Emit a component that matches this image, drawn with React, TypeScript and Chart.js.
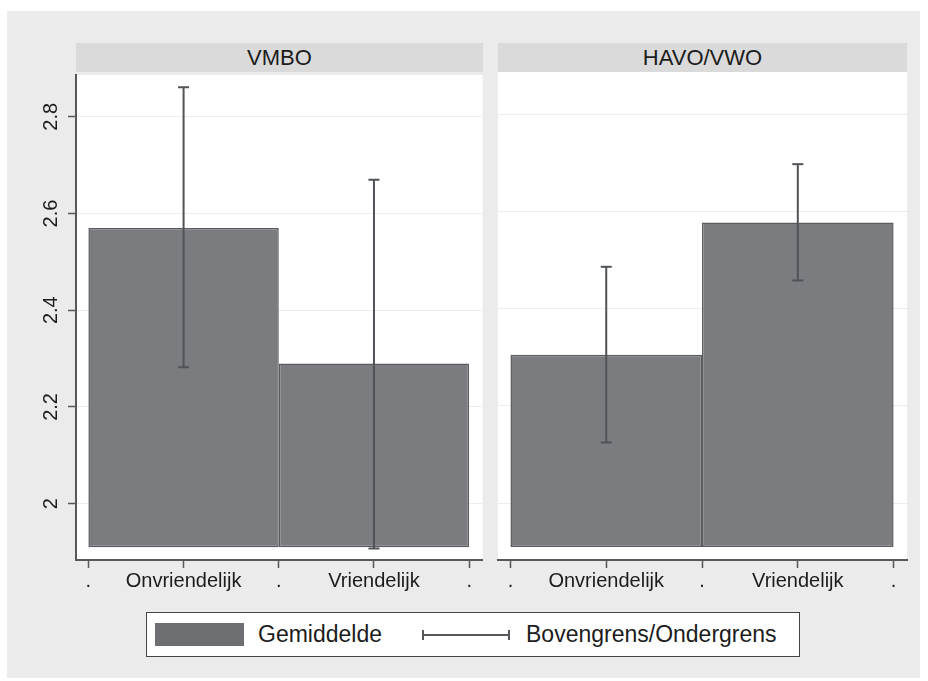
import React, { useEffect, useRef } from 'react';
import { Chart, registerables } from 'chart.js';

Chart.register(...registerables);

// ---- data ----
const groups = ['VMBO', 'HAVO/VWO'];
const categories = ['Onvriendelijk', 'Vriendelijk'];
const vmboMean = [2.57, 2.29];
const vmboUpper = [2.861, 2.67];
const vmboLower = [2.282, 1.907];
const havoMean = [2.305, 2.577];
const havoUpper = [2.486, 2.697];
const havoLower = [2.125, 2.458];
const barBase = 1.91;
const yTickValues = [2, 2.2, 2.4, 2.6, 2.8];
const yTickLabels = ['2', '2.2', '2.4', '2.6', '2.8'];
const xTickLabels = ['.', 'Onvriendelijk', '.', 'Vriendelijk', '.'];
const legendLabels = ['Gemiddelde', 'Bovengrens/Ondergrens'];

// ---- styles ----
const FONT = '"Liberation Sans", Arial, Helvetica, sans-serif';
const TEXT = '#1c1c1c';
const AXIS = '#55575a';
const GRID = '#ececec';
const BAR_FILL = '#7b7c80';
const BAR_EDGE = '#5a5b5f';
const ERR = '#505357';
const PAGE_BG = '#ebebeb';
const HEADER_BG = '#dadada';

const plotBg = {
  id: 'plotBg',
  beforeDraw(chart: any) {
    const { ctx, chartArea: a } = chart;
    ctx.save();
    ctx.fillStyle = '#ffffff';
    ctx.fillRect(a.left, a.top, a.right - a.left, a.bottom - a.top);
    ctx.restore();
  },
};

function buildConfig(mean: number[], upper: number[], lower: number[], showY: boolean, padding: any): any {
  const xs = categories.map((_, i) => i * 2 + 1);
  const datasets: any[] = [
    {
      type: 'bar',
      label: legendLabels[0],
      data: xs.map((x, i) => ({ x, y: [barBase, mean[i]] })),
      backgroundColor: BAR_FILL,
      borderColor: BAR_EDGE,
      borderWidth: 1.5,
      borderSkipped: false,
      categoryPercentage: 1,
      barPercentage: 2,
      order: 2,
    },
  ];
  xs.forEach((x, i) => {
    datasets.push({
      type: 'line',
      label: legendLabels[1],
      data: [
        { x, y: lower[i] },
        { x, y: upper[i] },
      ],
      borderColor: ERR,
      borderWidth: 2,
      pointStyle: 'line',
      pointRadius: 5.5,
      pointBorderWidth: 2,
      pointBorderColor: ERR,
      pointBackgroundColor: ERR,
      fill: false,
      order: 1,
    });
  });

  return {
    type: 'bar',
    data: { datasets },
    plugins: [plotBg],
    options: {
      responsive: false,
      animation: false,
      events: [],
      layout: { padding },
      plugins: {
        legend: { display: false },
        tooltip: { enabled: false },
        title: { display: false },
      },
      scales: {
        x: {
          type: 'linear',
          min: -0.13,
          max: 4.14,
          offset: false,
          afterBuildTicks: (axis: any) => {
            axis.ticks = xTickLabels.map((_, i) => ({ value: i }));
          },
          afterFit: (axis: any) => {
            axis.height = 40;
          },
          ticks: {
            callback: (_v: any, i: number) => xTickLabels[i],
            font: { size: 20, family: FONT },
            color: TEXT,
            padding: 1,
            maxRotation: 0,
            minRotation: 0,
            autoSkip: false,
          },
          grid: {
            drawOnChartArea: false,
            drawTicks: true,
            tickLength: 8,
            tickColor: AXIS,
            tickWidth: 1.5,
            offset: false,
          },
          border: { display: true, color: AXIS, width: 2 },
        },
        y: {
          type: 'linear',
          min: 1.8834,
          max: 2.8864,
          afterBuildTicks: (axis: any) => {
            axis.ticks = yTickValues.map((v) => ({ value: v }));
          },
          afterFit: (axis: any) => {
            axis.width = showY ? 56 : 0;
          },
          ticks: {
            display: showY,
            callback: (_v: any, i: number) => yTickLabels[i],
            minRotation: 90,
            maxRotation: 90,
            crossAlign: 'center',
            padding: 3,
            font: { size: 20, family: FONT },
            color: TEXT,
          },
          grid: {
            color: GRID,
            lineWidth: 1,
            drawTicks: showY,
            tickLength: 8,
            tickColor: AXIS,
            tickWidth: 1.5,
          },
          border: { display: showY, color: AXIS, width: 2 },
        },
      },
    },
  };
}

function Panel(props: {
  mean: number[];
  upper: number[];
  lower: number[];
  showY: boolean;
  left: number;
  width: number;
  padding: any;
}) {
  const ref = useRef<HTMLCanvasElement | null>(null);
  useEffect(() => {
    if (!ref.current) return;
    const chart = new Chart(ref.current, buildConfig(props.mean, props.upper, props.lower, props.showY, props.padding));
    return () => chart.destroy();
  }, []);
  return (
    <canvas
      ref={ref}
      width={props.width}
      height={540}
      style={{ position: 'absolute', left: props.left, top: 60, width: props.width, height: 540 }}
    />
  );
}

const headerStyle = (left: number, width: number): React.CSSProperties => ({
  position: 'absolute',
  left,
  top: 43,
  width,
  height: 29,
  lineHeight: '29px',
  background: HEADER_BG,
  textAlign: 'center',
  fontFamily: FONT,
  fontSize: 22,
  color: TEXT,
});

export default function App() {
  Chart.defaults.font.family = FONT;
  return (
    <div style={{ position: 'fixed', left: 0, top: 0, width: 928, height: 681, background: '#ffffff', overflow: 'hidden' }}>
      <div style={{ position: 'absolute', left: 7, top: 11, width: 913, height: 667, background: PAGE_BG }} />
      <div style={headerStyle(76, 407)}>{groups[0]}</div>
      <div style={headerStyle(498, 409)}>{groups[1]}</div>
      <Panel mean={vmboMean} upper={vmboUpper} lower={vmboLower} showY={true} left={20} width={470}
        padding={{ top: 12, right: 7, left: 0, bottom: 0 }} />
      <Panel mean={havoMean} upper={havoUpper} lower={havoLower} showY={false} left={490} width={430}
        padding={{ top: 12, right: 13, left: 8, bottom: 0 }} />
      {/* legend */}
      <div style={{ position: 'absolute', left: 146, top: 612, width: 654, height: 45, boxSizing: 'border-box', border: '1.5px solid #444', background: '#fff' }} />
      <div style={{ position: 'absolute', left: 155, top: 623, width: 89, height: 23, background: '#6e6f73' }} />
      <div style={{ position: 'absolute', left: 258, top: 612, height: 45, lineHeight: '45px', fontFamily: FONT, fontSize: 23, color: TEXT, whiteSpace: 'nowrap' }}>{legendLabels[0]}</div>
      <div style={{ position: 'absolute', left: 422, top: 634, width: 87, height: 1.5, background: AXIS }} />
      <div style={{ position: 'absolute', left: 422, top: 630, width: 1.5, height: 10, background: AXIS }} />
      <div style={{ position: 'absolute', left: 508, top: 630, width: 1.5, height: 10, background: AXIS }} />
      <div style={{ position: 'absolute', left: 526, top: 612, height: 45, lineHeight: '45px', fontFamily: FONT, fontSize: 23, color: TEXT, whiteSpace: 'nowrap' }}>{legendLabels[1]}</div>
    </div>
  );
}
